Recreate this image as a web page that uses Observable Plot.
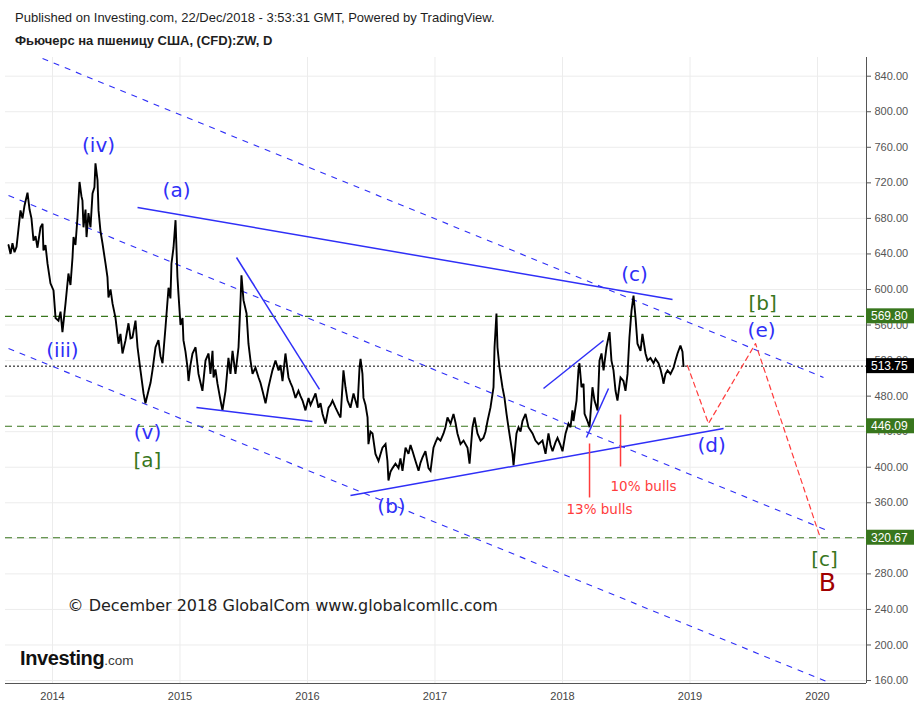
<!DOCTYPE html>
<html>
<head>
<meta charset="utf-8">
<script src="https://cdn.jsdelivr.net/npm/d3@7"></script>
<script src="https://cdn.jsdelivr.net/npm/@observablehq/plot@0.6"></script>
<style>
  body { margin: 0; background: #fff; width: 920px; height: 708px; overflow: hidden; position: relative; }
  #hdr { position: relative; height: 52px; font-family: "Liberation Sans", Arial, sans-serif; font-size: 13px; color: #1e1e1e; }
  #hdr div { position: absolute; left: 15px; white-space: nowrap; }
  #logo { position: absolute; left: 20px; top: 647px; font-family: "Liberation Sans", Arial, sans-serif; white-space: nowrap; color: #111; }
  #logo b { font-size: 20px; letter-spacing: -0.4px; }
  #logo span { font-size: 13.5px; color: #3a3a3a; }
</style>
</head>
<body>
<div id="hdr">
  <div style="top:10px">Published on Investing.com, 22/Dec/2018 - 3:53:31 GMT, Powered by TradingView.</div>
  <div style="top:33px;font-weight:bold">Фьючерс на пшеницу США, (CFD):ZW, D</div>
</div>
<div id="chart"></div>
<div id="logo"><b>Investing</b><span>.com</span></div>
<script>
// ---------- data (decimal year, price) ----------
const dates = [
2013.655,2013.671,2013.686,2013.702,2013.718,2013.733,2013.749,2013.765,2013.780,2013.804,
2013.820,2013.835,2013.851,2013.867,2013.882,2013.906,2013.922,2013.929,2013.945,2013.961,
2013.984,2014.008,2014.024,2014.047,2014.063,2014.078,2014.102,2014.125,2014.141,2014.157,
2014.165,2014.180,2014.196,2014.212,2014.227,2014.235,2014.243,2014.259,2014.267,2014.282,
2014.298,2014.314,2014.329,2014.337,2014.353,2014.361,2014.376,2014.392,2014.416,2014.431,
2014.439,2014.455,2014.471,2014.494,2014.518,2014.533,2014.549,2014.573,2014.596,2014.612,
2014.627,2014.651,2014.667,2014.690,2014.714,2014.729,2014.753,2014.769,2014.784,2014.808,
2014.831,2014.847,2014.863,2014.886,2014.910,2014.925,2014.933,2014.949,2014.965,
2014.980,2014.988,2015.004,2015.020,2015.027,2015.043,2015.059,2015.067,2015.082,2015.098,
2015.122,2015.145,2015.161,2015.176,2015.200,2015.224,2015.239,2015.255,2015.263,2015.278,
2015.294,2015.318,2015.333,2015.357,2015.380,2015.396,2015.412,2015.435,2015.459,2015.475,
2015.482,2015.498,2015.522,2015.537,2015.553,2015.569,2015.592,2015.616,2015.631,2015.647,
2015.671,2015.694,2015.710,2015.725,2015.749,2015.773,2015.788,2015.804,2015.827,2015.851,
2015.867,2015.882,2015.906,2015.929,2015.945,2015.961,2015.984,2016.008,2016.024,2016.039,
2016.063,2016.086,2016.102,2016.118,2016.141,2016.165,2016.180,2016.196,2016.220,2016.243,
2016.259,2016.282,2016.298,2016.314,2016.337,2016.361,2016.376,2016.392,2016.408,
2016.416,2016.431,2016.439,2016.455,2016.471,2016.478,2016.494,2016.510,2016.533,2016.557,
2016.573,2016.588,2016.612,2016.627,2016.635,2016.651,2016.667,2016.690,2016.714,2016.729,
2016.745,2016.769,2016.792,2016.808,2016.824,2016.847,2016.871,2016.886,2016.902,2016.925,
2016.949,2016.965,2016.988,2017.004,2017.020,2017.043,2017.067,2017.082,2017.098,2017.122,
2017.145,2017.161,2017.176,2017.200,2017.224,2017.255,2017.271,2017.294,2017.310,2017.333,
2017.357,2017.380,2017.396,2017.412,2017.435,2017.459,2017.467,2017.482,2017.490,2017.506,
2017.529,2017.545,2017.561,2017.576,2017.592,2017.608,2017.616,2017.639,2017.655,2017.671,
2017.686,2017.710,2017.733,2017.765,2017.788,2017.812,2017.843,2017.867,2017.890,
2017.906,2017.922,2017.945,2017.961,2017.984,2018.000,2018.024,2018.047,2018.063,2018.078,
2018.086,2018.110,2018.125,2018.133,2018.149,2018.165,2018.173,2018.196,2018.212,2018.235,
2018.251,2018.275,2018.290,2018.306,2018.322,2018.345,2018.369,2018.384,2018.400,2018.416,
2018.431,2018.455,2018.478,2018.494,2018.510,2018.525,2018.541,2018.557,2018.573,2018.588,
2018.612,2018.627,2018.651,2018.667,2018.690,2018.714,2018.729,2018.753,2018.769,2018.784,
2018.792,2018.808,2018.824,2018.847,2018.871,2018.886,2018.902,2018.925,2018.941,2018.949
];
const prices = [
650,640,652,642,648,668,689,680,694,709,
690,680,655,660,647,670,674,644,650,629,
607,599,568,565,575,552,584,618,605,636,
659,650,681,721,705,700,670,690,659,686,
670,708,715,742,723,689,666,652,629,614,
591,600,584,568,539,550,528,543,562,545,
546,565,535,509,483,472,486,495,509,535,
543,525,517,557,602,590,629,647,678,
614,595,560,568,543,530,512,497,515,528,
535,505,495,486,520,528,505,531,501,510,
494,475,464,486,523,505,531,505,535,588,
616,588,573,539,520,505,512,501,495,486,
472,490,500,509,520,509,515,497,528,501,
495,490,478,486,480,475,464,478,470,475,
483,467,472,460,449,467,470,475,467,460,
456,509,490,475,467,483,475,467,512,
522,505,478,470,456,426,440,438,415,407,
415,422,426,407,385,395,399,404,399,410,
396,422,415,425,418,407,396,405,411,418,
399,396,422,428,433,430,438,445,456,449,
460,450,438,426,430,422,404,445,456,438,
430,433,440,452,467,490,535,573,535,512,
490,478,460,445,430,415,402,438,445,440,
452,460,445,438,430,426,430,415,438,
425,418,428,433,425,418,438,449,445,464,
452,475,509,517,490,494,460,452,445,490,
475,464,520,528,509,535,552,520,509,486,
475,501,497,486,505,546,576,593,568,539,
531,550,528,520,523,517,522,517,510,501,
494,505,509,505,512,520,528,537,530,513.75
];

// axis ticks
const years = [2014, 2015, 2016, 2017, 2018, 2019, 2020];
const yTicks = [160,200,240,280,320,360,400,440,480,520,560,600,640,680,720,760,800,840];

// horizontal levels
const fibLevels = [569.80, 446.09, 320.67];
const lastPrice = 513.75;

// blue dashed channel lines
const channels = [
  {t1: 2013.922, p1: 859.9, t2: 2020.047, p2: 501.0},
  {t1: 2013.655, p1: 705.8, t2: 2020.078, p2: 328.8},
  {t1: 2013.655, p1: 533.6, t2: 2020.071, p2: 158.9}
];
// blue solid trend lines
const trends = [
  {t1: 2014.667, p1: 692.3, t2: 2018.863, p2: 588.7},
  {t1: 2015.443, p1: 636.0, t2: 2016.094, p2: 487.5},
  {t1: 2015.129, p1: 467.2, t2: 2016.039, p2: 451.5},
  {t1: 2016.337, p1: 368.2, t2: 2019.263, p2: 443.6},
  {t1: 2017.851, p1: 488.6, t2: 2018.322, p2: 542.6},
  {t1: 2018.188, p1: 433.5, t2: 2018.361, p2: 488.6}
];
// red dashed projection (d)-(e)-[c]
const projT = [2018.980, 2019.145, 2019.514, 2020.016];
const projP = [514.5, 449.2, 539.2, 323.2];
// sentiment markers
const bulls = [
  {t: 2018.212, p1: 426.7, p2: 366.0, label: "13% bulls", tl: 2018.290, pl: 352.5},
  {t: 2018.455, p1: 459.3, p2: 400.8, label: "10% bulls", tl: 2018.635, pl: 378.3}
];
// wave labels
const waveBlue = [
  {t: 2014.361, p: 762.0, s: "(iv)"},
  {t: 2014.078, p: 531.4, s: "(iii)"},
  {t: 2014.745, p: 439.1, s: "(v)"},
  {t: 2014.973, p: 711.4, s: "(a)"},
  {t: 2016.659, p: 355.8, s: "(b)"},
  {t: 2018.565, p: 616.9, s: "(c)"},
  {t: 2019.169, p: 424.5, s: "(d)"},
  {t: 2019.561, p: 553.9, s: "(e)"}
];
const waveGreen = [
  {t: 2014.745, p: 407.6, s: "[a]"},
  {t: 2019.569, p: 584.2, s: "[b]"},
  {t: 2020.055, p: 296.2, s: "[c]"}
];
const waveRed = [{t: 2020.078, p: 269.2, s: "B"}];
const copyright = [{t: 2014.118, p: 244.4, s: "© December 2018 GlobalCom www.globalcomllc.com"}];

// ---------- build ----------
const series = dates.map((d, i) => ({t: d, price: prices[i]}));
const proj = projT.map((d, i) => ({t: d, price: projP[i]}));
const xDomain = [2013.6314, 2020.3843];
const yDomain = [156.65, 861.04];

const BLUE = "#2f2ff7", GREEN = "#38761d", RED = "#ff3c3c";
const labelFont = "DejaVu Sans, Verdana, sans-serif";

const chart = Plot.plot({
  width: 920, height: 656,
  marginLeft: 5, marginRight: 54, marginTop: 5, marginBottom: 25,
  style: {fontFamily: "Liberation Sans, Arial, sans-serif", fontSize: "11px", background: "#fff", overflow: "visible"},
  x: {type: "linear", domain: xDomain},
  y: {type: "linear", domain: yDomain},
  marks: [
    Plot.gridY(yTicks, {stroke: "#ececec", strokeOpacity: 1}),
    Plot.gridX(years, {stroke: "#ececec", strokeOpacity: 1}),
    Plot.ruleY(fibLevels, {stroke: GREEN, strokeDasharray: "7,5", strokeWidth: 1.2}),
    Plot.ruleY([lastPrice], {stroke: "#000", strokeDasharray: "2,2", strokeWidth: 1}),
    Plot.link(channels, {x1: "t1", y1: "p1", x2: "t2", y2: "p2", stroke: BLUE, strokeWidth: 1.1, strokeDasharray: "6,6", clip: true}),
    Plot.line(series, {x: "t", y: "price", stroke: "#000", strokeWidth: 1.9, strokeLinejoin: "miter", strokeMiterlimit: 3, clip: true}),
    Plot.link(trends, {x1: "t1", y1: "p1", x2: "t2", y2: "p2", stroke: BLUE, strokeWidth: 1.5}),
    Plot.line(proj, {x: "t", y: "price", stroke: RED, strokeWidth: 1.2, strokeDasharray: "5,4"}),
    Plot.link(bulls, {x1: "t", x2: "t", y1: "p1", y2: "p2", stroke: RED, strokeWidth: 1.5}),
    Plot.text(bulls, {x: "tl", y: "pl", text: "label", fill: RED, fontSize: 13.5, fontFamily: labelFont}),
    Plot.text(waveBlue, {x: "t", y: "p", text: "s", fill: BLUE, fontSize: 20, fontFamily: labelFont}),
    Plot.text(waveGreen, {x: "t", y: "p", text: "s", fill: GREEN, fontSize: 20, fontFamily: labelFont}),
    Plot.text(waveRed, {x: "t", y: "p", text: "s", fill: "#a00000", fontSize: 25, fontFamily: labelFont}),
    Plot.text(copyright, {x: "t", y: "p", text: "s", fill: "#222", fontSize: 16, fontFamily: labelFont, textAnchor: "start"}),
    Plot.axisY(yTicks, {anchor: "right", tickSize: 4, tickPadding: 4, tickFormat: d => d.toFixed(2), color: "#555", fontSize: 11, label: null}),
    Plot.axisX(years, {anchor: "bottom", tickSize: 0, tickPadding: 9, tickFormat: d => String(d), color: "#444", fontSize: 11, label: null}),
    Plot.ruleX([xDomain[1]], {stroke: "#555", strokeWidth: 1}),
    Plot.ruleY([yDomain[0]], {stroke: "#555", strokeWidth: 1})
  ]
});
document.getElementById("chart").appendChild(chart);

// price tags on the right axis, positioned with Plot's y scale
const ys = chart.scale("y");
const tags = fibLevels.map(v => ({v, fill: GREEN})).concat([{v: lastPrice, fill: "#000"}]);
const svg = d3.select(chart);
const right = 920 - 54;
const tagLayer = svg.append("g").attr("text-anchor", "start");
tags.forEach(d => {
  const yy = ys.apply(d.v);
  tagLayer.append("rect").attr("x", right).attr("y", yy - 7.5).attr("width", 48).attr("height", 15).attr("fill", d.fill);
  tagLayer.append("text").attr("x", right + 5).attr("y", yy).attr("dy", "0.36em")
    .attr("text-anchor", "start")
    .attr("fill", "#fff").attr("font-size", 12).attr("font-family", "Liberation Sans, Arial, sans-serif")
    .text(d.v.toFixed(2));
});
</script>
</body>
</html>
